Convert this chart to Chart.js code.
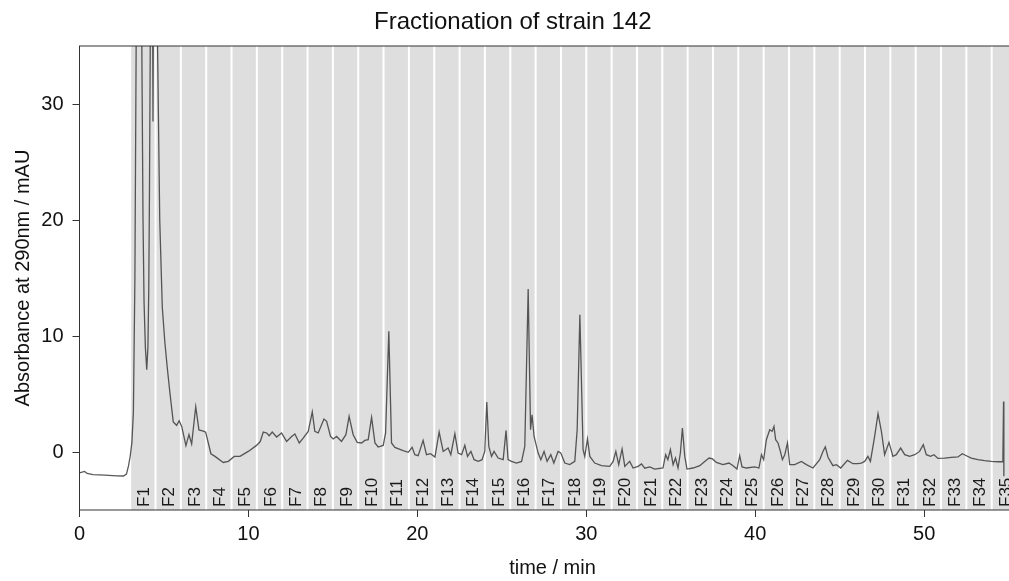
<!DOCTYPE html>
<html>
<head>
<meta charset="utf-8">
<script src="https://cdn.jsdelivr.net/npm/chart.js@4.4.1/dist/chart.umd.min.js"></script>
<style>
  html, body { margin: 0; padding: 0; background: #fff; overflow: hidden; }
</style>
</head>
<body>
<canvas id="chromChart" width="1062" height="581"></canvas>
<script>
// chromatogram trace (time in min, absorbance in mAU)
const timeMin = [
  0.00, 0.30, 0.45, 0.80, 1.50, 2.20, 2.60, 2.78, 2.90, 3.00, 3.10, 3.19, 3.28, 3.50, 3.76, 3.82, 3.90, 3.98,
  4.05, 4.10, 4.14, 4.28, 4.35, 4.40, 4.50, 4.62, 4.75, 4.90, 5.05, 5.20, 5.36, 5.55, 5.75, 5.90, 6.05, 6.30,
  6.48, 6.64, 6.88, 7.07, 7.33, 7.47, 7.78, 8.02, 8.51, 8.81, 9.16, 9.50, 9.99, 10.48, 10.70, 10.88, 11.08, 11.23,
  11.41, 11.67, 11.96, 12.26, 12.56, 12.75, 13.01, 13.24, 13.54, 13.78, 13.93, 14.13, 14.47, 14.63, 14.86, 15.02,
  15.22, 15.51, 15.77, 15.96, 16.20, 16.44, 16.70, 16.89, 17.09, 17.29, 17.49, 17.68, 17.98, 18.12, 18.31, 18.47,
  18.67, 19.16, 19.46, 19.69, 19.85, 20.05, 20.34, 20.54, 20.78, 21.04, 21.29, 21.53, 21.82, 21.98, 22.22, 22.41,
  22.62, 22.81, 22.97, 23.17, 23.36, 23.60, 23.83, 23.99, 24.11, 24.23, 24.39, 24.54, 24.78, 25.08, 25.25, 25.37,
  25.57, 25.87, 26.17, 26.36, 26.56, 26.70, 26.79, 26.91, 27.15, 27.31, 27.50, 27.68, 27.90, 28.08, 28.33, 28.49,
  28.73, 29.02, 29.32, 29.46, 29.62, 29.81, 29.91, 30.07, 30.21, 30.50, 30.90, 31.39, 31.59, 31.75, 31.92, 32.12,
  32.28, 32.57, 32.77, 33.07, 33.27, 33.46, 33.76, 34.05, 34.54, 34.70, 34.83, 34.98, 35.14, 35.28, 35.43, 35.57,
  35.69, 35.83, 35.96, 36.32, 36.72, 37.01, 37.27, 37.47, 37.70, 38.09, 38.45, 38.69, 38.92, 39.08, 39.22, 39.48,
  39.97, 40.22, 40.37, 40.50, 40.66, 40.86, 41.00, 41.11, 41.21, 41.35, 41.49, 41.61, 41.75, 41.91, 42.04, 42.34,
  42.73, 43.03, 43.42, 43.82, 44.01, 44.15, 44.31, 44.60, 44.81, 45.06, 45.46, 45.79, 46.08, 46.28, 46.48, 46.67,
  46.82, 47.07, 47.27, 47.47, 47.66, 47.92, 48.15, 48.35, 48.61, 48.85, 49.14, 49.44, 49.73, 49.95, 50.13, 50.38,
  50.58, 50.82, 51.21, 51.61, 52.00, 52.26, 52.50, 52.79, 53.18, 53.58, 53.98, 54.37, 54.66, 54.70, 54.72
];
const absorbance = [
  -1.81, -1.68, -1.85, -1.95, -2.00, -2.05, -2.07, -1.90, -1.20, -0.38, 0.78, 3.4, 15, 75, 20, 13, 9, 7.1,
  9, 14, 22, 60, 28.5, 50, 52, 35, 20, 12.5, 9.5, 7.2, 5.0, 2.6, 2.3, 2.7, 2.2, 0.55,
  1.5, 0.7, 3.9, 1.9, 1.8, 1.7, -0.15, -0.38, -0.9, -0.8, -0.38, -0.38, 0.05, 0.57, 0.9, 1.72, 1.64, 1.4,
  1.72, 1.29, 1.64, 0.91, 1.34, 1.55, 0.78, 1.2, 1.78, 3.45, 1.78, 1.64, 2.84, 2.64, 1.34, 1.12,
  1.34, 0.91, 1.49, 3.07, 1.49, 0.83, 0.78, 1.0, 1.06, 2.98, 0.78, 0.43, 0.57, 1.64, 10.4, 0.78,
  0.4, 0.11, -0.03, 0.4, -0.23, -0.32, 1.0, -0.23, -0.15, -0.43, 1.72, 0.05, 0.34, -0.23, 1.58, -0.09,
  -0.23, 0.57, -0.38, 0.05, -0.66, -0.81, -0.66, 0.05, 4.31, 0.48, -0.38, 0.05, -0.52, -0.66, 1.86, -0.66,
  -0.81, -0.95, -0.81, 0.48, 14.05, 1.92, 3.2, 1.34, -0.09, -0.66, 0.05, -0.81, -0.23, -0.95, 0.05, -0.09,
  -0.95, -1.09, -0.81, 1.92, 11.84, 0.2, -0.38, 1.12, -0.38, -0.95, -1.18, -1.24, -0.81, 0.05, -1.09, 0.26,
  -1.24, -0.81, -1.38, -1.24, -1.03, -1.40, -1.29, -1.47, -1.38, -0.23, -0.66, 0.2, -1.09, -0.52, -1.38, -0.09,
  2.07, -0.38, -1.47, -1.38, -1.18, -0.81, -0.52, -0.6, -0.9, -1.09, -0.95, -1.18, -1.47, -0.32, -1.29, -1.38,
  -1.29, -1.38, -0.23, -0.66, 1.06, 1.92, 1.78, 2.21, 1.06, 0.78, 0.05, -0.66, -0.23, 0.78, -1.09, -1.09,
  -0.81, -1.09, -1.38, -0.66, 0.05, 0.45, -0.45, -1.18, -1.09, -1.38, -0.72, -1.01, -1.01, -0.95, -0.81, -0.38,
  -0.81, 1.34, 3.3, 1.78, -0.23, 0.83, -0.38, -0.23, 0.34, -0.23, -0.38, -0.23, 0.05, 0.63, -0.23, -0.38,
  -0.23, -0.55, -0.52, -0.47, -0.43, -0.15, -0.32, -0.52, -0.66, -0.75, -0.81, -0.84, -0.84, 4.36, -2.1
];

// fraction collection windows (min)
const fracEdges = [3.0, 4.5, 6.0, 7.5, 9.0, 10.5, 12.0, 13.5, 15.0, 16.5, 18.0, 19.5, 21.0, 22.5, 24.0, 25.5, 27.0, 28.5,
  30.0, 31.5, 33.0, 34.5, 36.0, 37.5, 39.0, 40.5, 42.0, 43.5, 45.0, 46.5, 48.0, 49.5, 51.0, 52.5, 54.0, 55.5];
const fracLabels = ['F1','F2','F3','F4','F5','F6','F7','F8','F9','F10','F11','F12','F13','F14','F15','F16','F17','F18',
  'F19','F20','F21','F22','F23','F24','F25','F26','F27','F28','F29','F30','F31','F32','F33','F34','F35'];

const xTicks = [0, 10, 20, 30, 40, 50];
const yTicks = [0, 10, 20, 30];

const FONT = "'Liberation Sans', Arial, sans-serif";

const fractionPlugin = {
  id: 'fractions',
  beforeDatasetsDraw(chart) {
    const { ctx, chartArea: a, scales: { x } } = chart;
    ctx.save();
    ctx.beginPath();
    ctx.rect(a.left, a.top, a.width, a.height);
    ctx.clip();
    ctx.fillStyle = '#dedede';
    for (let i = 0; i < fracLabels.length; i++) {
      const x0 = x.getPixelForValue(fracEdges[i]) + 1;
      const x1 = x.getPixelForValue(fracEdges[i + 1]) - 1;
      ctx.fillRect(x0, a.top, x1 - x0, a.height);
    }
    ctx.restore();
  },
  afterDatasetsDraw(chart) {
    const { ctx, chartArea: a, scales: { x } } = chart;
    ctx.save();
    ctx.beginPath();
    ctx.rect(a.left, a.top, a.width, a.height);
    ctx.clip();
    ctx.fillStyle = '#1a1a1a';
    ctx.font = '17px ' + FONT;
    ctx.textAlign = 'left';
    ctx.textBaseline = 'middle';
    fracLabels.forEach((lab, i) => {
      const xc = x.getPixelForValue((fracEdges[i] + fracEdges[i + 1]) / 2);
      ctx.save();
      ctx.translate(xc + 1.5, a.bottom - 3);
      ctx.rotate(-Math.PI / 2);
      ctx.fillText(lab, 0, 0);
      ctx.restore();
    });
    ctx.restore();
    // plot box
    ctx.save();
    ctx.strokeStyle = '#333';
    ctx.lineWidth = 1;
    ctx.strokeRect(a.left, a.top, a.width, a.height);
    ctx.restore();
  }
};

new Chart(document.getElementById('chromChart'), {
  type: 'scatter',
  data: {
    datasets: [{
      data: timeMin.map((t, i) => ({ x: t, y: absorbance[i] })),
      showLine: true,
      borderColor: 'rgba(60,60,60,0.85)',
      borderWidth: 1.3,
      pointRadius: 0,
      tension: 0
    }]
  },
  options: {
    responsive: false,
    animation: false,
    layout: { padding: { left: 0, right: 36.5, top: 0, bottom: 0 } },
    plugins: {
      legend: { display: false },
      tooltip: { enabled: false },
      title: {
        display: true,
        text: 'Fractionation of strain 142',
        color: '#111',
        font: { family: FONT, size: 24, weight: 'normal', lineHeight: 1.2 },
        padding: { top: 8, bottom: 9.2 }
      }
    },
    scales: {
      x: {
        type: 'linear', min: 0, max: 56,
        afterBuildTicks: s => { s.ticks = xTicks.map(v => ({ value: v })); },
        afterFit: s => { s.height = 71; },
        border: { display: false },
        grid: { drawOnChartArea: false, drawTicks: true, tickLength: 7, color: '#333' },
        ticks: { color: '#111', font: { family: FONT, size: 20 }, padding: 5, maxRotation: 0 },
        title: { display: true, text: 'time / min', color: '#111', font: { family: FONT, size: 20 }, padding: { top: 0, bottom: 1 } }
      },
      y: {
        min: -5, max: 35,
        afterBuildTicks: s => { s.ticks = yTicks.map(v => ({ value: v })); },
        afterFit: s => { s.width = 79.5; },
        border: { display: false },
        grid: { drawOnChartArea: false, drawTicks: true, tickLength: 7, color: '#333' },
        ticks: { color: '#111', font: { family: FONT, size: 20 }, padding: 9 },
        title: { display: true, text: 'Absorbance at 290nm / mAU', color: '#111', font: { family: FONT, size: 20 }, padding: { top: 11, bottom: 0 } }
      }
    }
  },
  plugins: [fractionPlugin]
});
</script>
</body>
</html>
